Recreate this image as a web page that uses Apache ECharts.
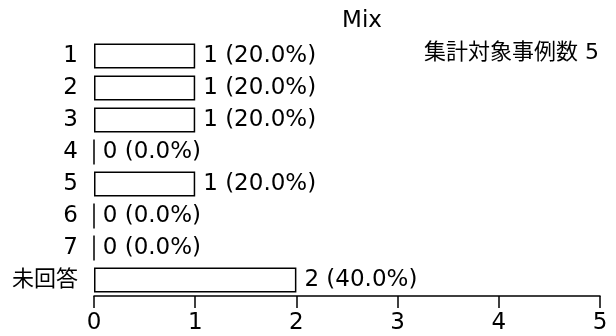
<!DOCTYPE html>
<html><head><meta charset="utf-8">
<script src="https://cdn.jsdelivr.net/npm/echarts@6/dist/echarts.min.js"></script>
<style>html,body{margin:0;padding:0;background:#fff}#c{width:616px;height:336px}</style>
</head><body><div id="c"></div>
<script>
const categories = ['1','2','3','4','5','6','7','未回答'];
const counts = [1,1,1,0,1,0,0,2];
const totalCases = 5;
const xTicks = [0,1,2,3,4,5];
const titleText = 'Mix';
const noteText = '集計対象事例数 5';

const FONT = '"DejaVu Sans", "Noto Sans CJK JP", sans-serif';
const chart = echarts.init(document.getElementById('c'), null, {renderer:'canvas'});
chart.setOption({
  animation:false,
  backgroundColor:'#fff',
  textStyle:{fontFamily:FONT},
  title:[
    {text:titleText, left:357, top:5, textAlign:'center',
     textStyle:{fontSize:23, fontWeight:'normal', color:'#000', fontFamily:FONT}},
    {text:noteText, right:12, top:37,
     textStyle:{fontSize:22, fontWeight:'normal', color:'#000', fontFamily:FONT}}
  ],
  grid:{left:94, right:16, top:40, bottom:40, containLabel:false},
  xAxis:{type:'value', min:xTicks[0], max:xTicks[xTicks.length-1], interval:1,
    axisLine:{show:true, lineStyle:{color:'#000', width:1.5}},
    axisTick:{show:true, length:12, inside:false, lineStyle:{color:'#000', width:1.5}},
    axisLabel:{color:'#000', fontSize:23, margin:16, fontFamily:FONT},
    splitLine:{show:false}},
  yAxis:{type:'category', data:categories, inverse:true,
    axisLine:{show:false}, axisTick:{show:false},
    axisLabel:{color:'#000', fontSize:23, margin:16, fontFamily:FONT,
      formatter:v => /^[\x00-\x7f]*$/.test(v) ? v : '{cjk|' + v + '}',
      rich:{cjk:{fontSize:22, color:'#000', fontFamily:FONT}}}},
  series:[{type:'bar', data:counts, barCategoryGap:'22%',
    itemStyle:{color:'#fff', borderColor:'#000', borderWidth:1.5},
    label:{show:true, position:'right', distance:8, color:'#000', fontSize:23, fontFamily:FONT,
      formatter:p => p.value + ' (' + (p.value/totalCases*100).toFixed(1) + '%)'}
  }]
});
</script></body></html>
